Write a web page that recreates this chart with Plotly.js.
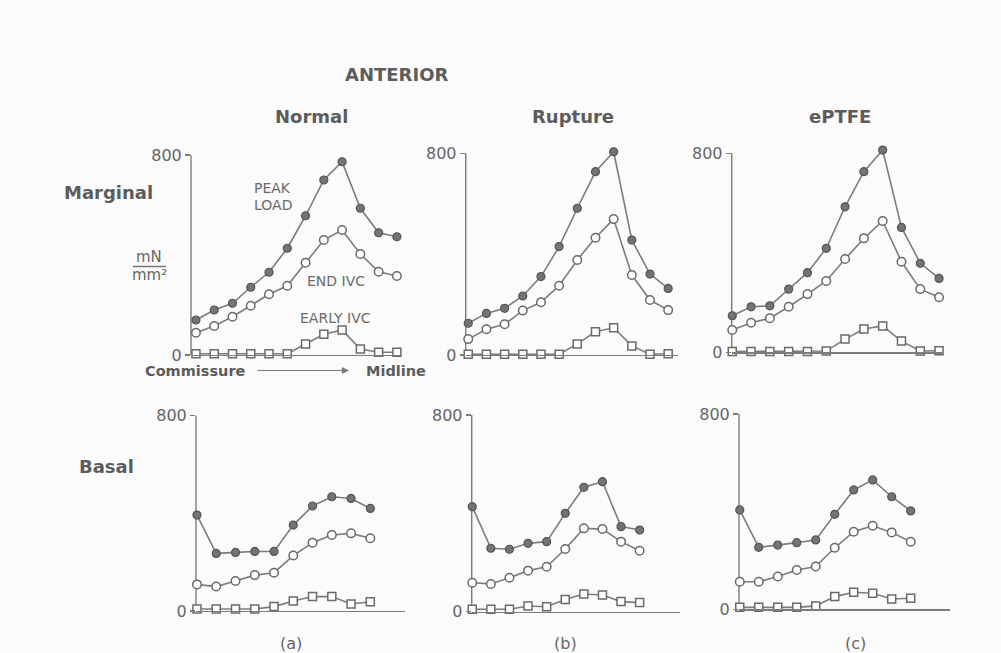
<!DOCTYPE html>
<html>
<head>
<meta charset="utf-8">
<script src="https://cdn.plot.ly/plotly-3.0.1.min.js"></script>
<style>
html,body{margin:0;padding:0;background:#fbfbfb;}
#chart{width:1001px;height:653px;}
</style>
</head>
<body>
<div id="chart"></div>
<script>
// ---------- DATA (mN/mm^2) ----------
const positionsMarginal = [0,1,2,3,4,5,6,7,8,9,10,11];
const positionsBasal = [0,1,2,3,4,5,6,7,8,9];

// Marginal row
const peakNormalMarginal  = [140,180,207,271,331,427,557,700,773,587,489,473];
const endNormalMarginal   = [89,116,153,197,243,277,369,460,500,404,333,316];
const earlyNormalMarginal = [5,5,5,5,5,5,44,83,100,24,11,11];

const peakRuptureMarginal  = [126,165,185,234,311,430,582,727,806,456,321,264];
const endRuptureMarginal   = [63,102,122,176,209,275,377,465,539,317,218,178];
const earlyRuptureMarginal = [3,3,3,3,3,3,44,92,108,36,3,5];

const peakEptfeMarginal  = [147,183,187,254,320,418,585,726,813,502,358,297];
const endEptfeMarginal   = [90,119,137,183,234,287,375,458,528,364,254,221];
const earlyEptfeMarginal = [3,3,3,3,3,5,53,94,106,45,5,6];

// Basal row
const peakNormalBasal  = [393,236,240,244,244,352,430,468,461,420];
const endNormalBasal   = [109,100,123,147,157,227,280,311,318,298];
const earlyNormalBasal = [8,8,8,8,18,41,59,59,29,38];

const peakRuptureBasal  = [427,258,254,278,285,400,506,529,346,332];
const endRuptureBasal   = [118,113,138,167,183,255,339,336,285,248];
const earlyRuptureBasal = [10,10,10,23,20,50,72,68,41,37];

const peakEptfeBasal  = [407,254,263,273,284,389,489,530,461,403];
const endEptfeBasal   = [113,113,134,161,175,252,318,342,315,277];
const earlyEptfeBasal = [8,8,8,8,14,52,70,66,42,45];

const yTickValues = [0,800];
const yTickLabels = ['0','800'];
const yAxisTop = 800;   // the drawn y axis stops at the 800 tick
const yRangeTop = 850;  // headroom so peaks above 800 are not clipped

// ---------- LAYOUT HELPERS ----------
const W = 1001, H = 653;
const px = x => x / W;
const py = y => 1 - y / H;

const panels = [
  {pos: positionsMarginal, peak: peakNormalMarginal,  end: endNormalMarginal,  early: earlyNormalMarginal,
   x0: 191, x1: 400, yZero: 355, yTop: 155, xr: [-0.27, 11.17]},
  {pos: positionsMarginal, peak: peakRuptureMarginal, end: endRuptureMarginal, early: earlyRuptureMarginal,
   x0: 465.7, x1: 678, yZero: 355, yTop: 153.3, xr: [-0.14, 11.54]},
  {pos: positionsMarginal, peak: peakEptfeMarginal,   end: endEptfeMarginal,   early: earlyEptfeMarginal,
   x0: 731.7, x1: 941.7, yZero: 352.3, yTop: 153.3, xr: [-0.03, 11.14]},
  {pos: positionsBasal, peak: peakNormalBasal,  end: endNormalBasal,  early: earlyNormalBasal,
   x0: 196, x1: 405, yZero: 611, yTop: 415.7, xr: [-0.05, 10.8]},
  {pos: positionsBasal, peak: peakRuptureBasal, end: endRuptureBasal, early: earlyRuptureBasal,
   x0: 471.7, x1: 680, yZero: 611.7, yTop: 415, xr: [-0.03, 11.17]},
  {pos: positionsBasal, peak: peakEptfeBasal,   end: endEptfeBasal,   early: earlyEptfeBasal,
   x0: 739, x1: 950, yZero: 609.3, yTop: 414, xr: [-0.04, 11.07]}
];

const lineCol = '#7c7c7c';
const traces = [];
const layout = {
  width: W, height: H,
  margin: {l:0, r:0, t:0, b:0},
  paper_bgcolor: '#fbfbfb',
  plot_bgcolor: 'rgba(0,0,0,0)',
  showlegend: false,
  font: {family: 'DejaVu Sans, Arial, sans-serif', color: '#666'},
  annotations: [],
  shapes: []
};

panels.forEach((p, i) => {
  const sfx = i === 0 ? '' : String(i + 1);
  const xa = 'x' + sfx, ya = 'y' + sfx;
  const base = {x: p.pos, xaxis: xa, yaxis: ya, mode: 'lines+markers', cliponaxis: false,
                hoverinfo: 'skip', line: {color: lineCol, width: 1.6}};
  traces.push(Object.assign({}, base, {y: p.early,
    marker: {symbol: 'square', size: 8, color: '#ffffff', line: {color: '#6a6a6a', width: 1.5}}}));
  traces.push(Object.assign({}, base, {y: p.end,
    marker: {symbol: 'circle', size: 8.5, color: '#ffffff', line: {color: '#6a6a6a', width: 1.5}}}));
  traces.push(Object.assign({}, base, {y: p.peak,
    marker: {symbol: 'circle', size: 8, color: '#747474', line: {color: '#555', width: 1.2}}}));

  const pxPer = (p.yZero - p.yTop) / yAxisTop;
  const topPix = p.yZero - pxPer * yRangeTop;

  layout['xaxis' + sfx] = {
    domain: [px(p.x0), px(p.x1)], range: p.xr, anchor: ya,
    showgrid: false, zeroline: false, showline: true, linecolor: lineCol, linewidth: 1.4,
    ticks: '', showticklabels: false, fixedrange: true
  };
  layout['yaxis' + sfx] = {
    domain: [py(p.yZero), py(topPix)], range: [0, yRangeTop], anchor: xa,
    showgrid: false, zeroline: false, showline: false,
    tickvals: yTickValues, ticktext: yTickLabels, ticks: 'outside', ticklen: 5,
    tickcolor: lineCol, tickwidth: 1.4,
    tickfont: {family: 'DejaVu Sans, Arial, sans-serif', size: 16, color: '#666'},
    fixedrange: true
  };
  // vertical axis line from 0 up to the 800 tick only
  layout.shapes.push({type: 'line', xref: xa + ' domain', yref: ya,
    x0: 0, x1: 0, y0: 0, y1: yAxisTop, line: {color: lineCol, width: 1.4}, layer: 'below'});
});

function addText(text, x, y, size, opts) {
  layout.annotations.push(Object.assign({
    text: text, x: px(x), y: py(y), xref: 'paper', yref: 'paper',
    showarrow: false, xanchor: 'center', yanchor: 'middle',
    font: {family: 'DejaVu Sans, Arial, sans-serif', size: size, color: '#5c5c5c'}
  }, opts || {}));
}

// Headings
addText('<b>ANTERIOR</b>', 396, 74.5, 18);
addText('<b>Normal</b>', 311.5, 116.5, 18);
addText('<b>Rupture</b>', 572.5, 116, 18);
addText('<b>ePTFE</b>', 840, 116, 18);
addText('<b>Marginal</b>', 108, 192, 18);
addText('<b>Basal</b>', 106.5, 466, 18);

// Unit fraction
const unitFont = {family: 'DejaVu Sans, Arial, sans-serif', size: 15, color: '#666'};
addText('mN', 149, 257, 15, {font: unitFont});
addText('mm²', 149, 275, 15, {font: unitFont});
layout.shapes.push({type: 'line', xref: 'paper', yref: 'paper',
  x0: px(133), x1: px(166), y0: py(266.5), y1: py(266.5), line: {color: '#777', width: 1.3}});

// Series labels in first panel
const lblFont = {family: 'DejaVu Sans, Arial, sans-serif', size: 14, color: '#6a6a6a'};
addText('PEAK', 252, 188, 14, {xanchor: 'left', font: lblFont});
addText('LOAD', 252, 205, 14, {xanchor: 'left', font: lblFont});
addText('END IVC', 336, 281, 14, {font: lblFont});
addText('EARLY IVC', 335, 317.5, 14, {font: lblFont});

// Commissure -> Midline
addText('<b>Commissure</b>', 195, 371, 14.5);
addText('<b>Midline</b>', 396, 371, 14.5);
layout.annotations.push({
  text: '', xref: 'paper', yref: 'paper', axref: 'paper', ayref: 'paper',
  x: px(349), y: py(370.5), ax: px(256), ay: py(370.5),
  showarrow: true, arrowhead: 2, arrowsize: 1.3, arrowwidth: 1.1, arrowcolor: '#777'
});

// Panel captions
const capFont = {family: 'DejaVu Sans, Arial, sans-serif', size: 16, color: '#666'};
addText('(a)', 291, 643, 16, {font: capFont});
addText('(b)', 565, 643, 16, {font: capFont});
addText('(c)', 855, 643, 16, {font: capFont});

Plotly.newPlot('chart', traces, layout, {displayModeBar: false, staticPlot: true});
</script>
</body>
</html>
